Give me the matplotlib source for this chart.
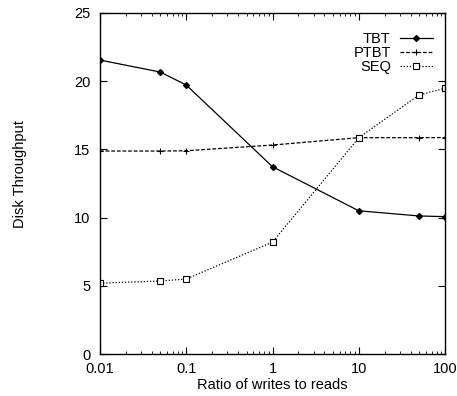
import matplotlib
matplotlib.use("Agg")
import matplotlib.pyplot as plt
from matplotlib.ticker import LogLocator, NullFormatter, FixedLocator

plt.rcParams['font.family'] = ['Liberation Sans', 'DejaVu Sans']

ratios = [0.01, 0.05, 0.1, 1, 10, 50, 100]
tbt = [21.55, 20.67, 19.72, 13.73, 10.5, 10.12, 10.07]
ptbt = [14.88, 14.88, 14.9, 15.32, 15.86, 15.86, 15.87]
seq = [5.2, 5.35, 5.5, 8.2, 15.85, 18.99, 19.48]
xticks = [0.01, 0.1, 1, 10, 100]
xticklabels = ["0.01", "0.1", "1", "10", "100"]
yticks = [0, 5, 10, 15, 20, 25]

fs = 10.5
fig = plt.figure(figsize=(4.57, 3.96), dpi=100)
ax = fig.add_axes([100/457, 1-354/396, 345/457, 341/396])

ax.plot(ratios, tbt, color='black', lw=0.9, marker='D', ms=3, mfc='black', mec='black', label='TBT')
ax.plot(ratios, ptbt, color='black', lw=0.9, ls=(0, (3, 1.5)), marker='+', ms=4, mew=0.8, label='PTBT')
ax.plot(ratios, seq, color='black', lw=0.9, ls=(0, (1, 1.5)), marker='s', ms=4, mfc='white', mec='black', mew=0.8, label='SEQ')

ax.set_xscale('log')
ax.set_xlim(0.01, 100)
ax.set_ylim(0, 25)
ax.xaxis.set_major_locator(FixedLocator(xticks))
ax.set_xticklabels(xticklabels)
ax.xaxis.set_minor_locator(LogLocator(base=10, subs=range(2, 10)))
ax.xaxis.set_minor_formatter(NullFormatter())
ax.set_yticks(yticks)

ax.tick_params(which='both', direction='in', top=True, right=True, labelsize=fs)
ax.tick_params(which='major', length=5, width=0.8)
ax.tick_params(which='minor', length=2.5, width=0.6)
ax.tick_params(axis='x', pad=6)
ax.tick_params(axis='y', pad=7)
for s in ax.spines.values():
    s.set_linewidth(1.0)

ax.set_xlabel('Ratio of writes to reads', fontsize=fs, labelpad=1)
ax.set_ylabel('Disk Throughput', fontsize=fs)
ax.yaxis.set_label_coords(-0.212, 0.528)

ax.legend(loc='upper right', frameon=False, markerfirst=False, fontsize=fs,
          handlelength=2.3, handletextpad=0.6, labelspacing=0.0,
          borderaxespad=0.3, bbox_to_anchor=(0.995, 0.975))

fig.savefig('out.png', dpi=100)
